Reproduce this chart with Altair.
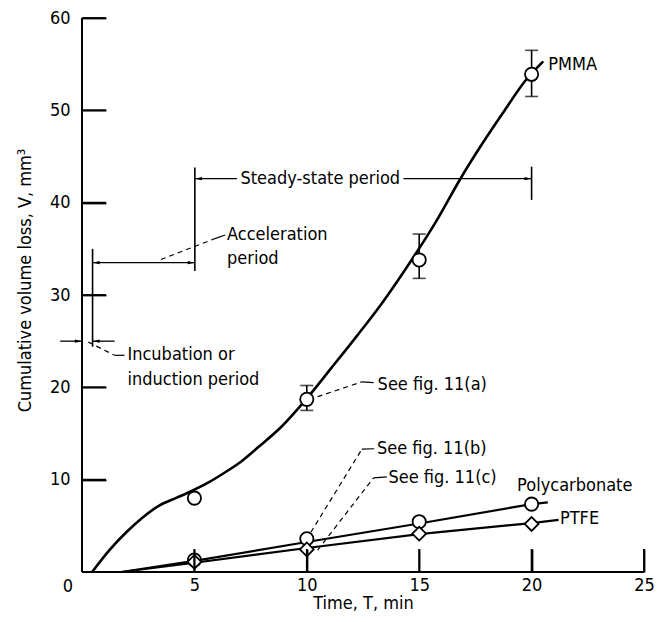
import altair as alt
import pandas as pd

W, H = 562, 554
FONT = "Liberation Sans Narrow, Arial Narrow, DejaVu Sans Condensed, sans-serif"
FS = 18

# ---- data ----
pmma_t = [5, 10, 15, 20]
pmma_v = [8.0, 18.7, 33.8, 53.9]
err_t = [10, 15, 20]
err_lo = [17.5, 31.8, 51.5]
err_hi = [20.2, 36.6, 56.5]

pc_t = [5, 10, 15, 20]
pc_v = [1.3, 3.6, 5.45, 7.35]
ptfe_t = [5, 10, 15, 20]
ptfe_v = [1.1, 2.45, 4.15, 5.2]

# fitted curves
pmma_curve_t = [0.45, 1.23, 1.97, 2.7, 3.43, 4.17, 4.9, 5.63, 6.37, 7.1, 7.83, 8.86, 9.9,
                11.06, 12.24, 13.4, 14.88, 15.76, 16.86, 17.81, 18.69, 19.72, 20.52]
pmma_curve_v = [0.0, 2.4, 4.3, 5.9, 7.2, 8.0, 8.8, 9.7, 10.8, 12.0, 13.5, 15.7, 18.5,
                22.0, 25.6, 29.3, 34.6, 38.0, 42.7, 46.4, 49.6, 53.2, 55.3]
pc_line_t = [1.75, 5, 10, 15, 20, 20.72]
pc_line_v = [0.0, 1.2, 3.25, 5.25, 7.35, 7.55]
ptfe_line_t = [1.75, 5, 10, 15, 20, 21.2]
ptfe_line_v = [0.0, 1.0, 2.6, 4.1, 5.3, 5.65]

y_ticks = [10, 20, 30, 40, 50, 60]
x_ticks = [5, 10, 15, 20, 25]

# period markers (vertical bars)
bar_t = [0.47, 5.02, 20.0]
bar_lo = [24.4, 32.6, 40.3]
bar_hi = [35.0, 43.8, 43.9]

# horizontal arrow segments
seg_t1 = [5.02, 14.3, 0.47, -0.97, 0.47]
seg_t2 = [6.9, 20.0, 5.02, 0.0, 1.45]
seg_v = [42.6, 42.6, 33.5, 25.0, 25.0]

# arrow heads: (t, v, direction)
head_t = [5.02, 20.0, 0.47, 5.02, 0.0, 0.47]
head_v = [42.6, 42.6, 33.5, 33.5, 25.0, 25.0]
head_dir = ["left", "right", "left", "right", "right", "left"]

# dashed leaders (grouped polylines)
lead_id = ["acc", "acc", "inc", "inc", "a", "a", "b", "b", "c", "c"]
lead_t = [3.51, 5.85, 0.28, 1.45, 10.48, 12.46, 10.18, 12.45, 10.48, 12.97]
lead_v = [33.84, 36.05, 24.9, 23.47, 18.99, 20.6, 4.3, 13.3, 2.36, 10.2]
# short solid ends of leaders
tail_t1 = [5.85, 1.45, 12.46, 12.45, 12.97]
tail_v1 = [36.05, 23.47, 20.6, 13.3, 10.2]
tail_t2 = [6.37, 1.89, 12.97, 13.0, 13.56]
tail_v2 = [36.5, 23.47, 20.5, 13.35, 10.3]

# text labels
lab_text = ["Acceleration", "period", "Incubation or", "induction period",
            "See fig. 11(a)", "See fig. 11(b)", "See fig. 11(c)", "PMMA", "PTFE"]
lab_t = [6.45, 6.45, 2.02, 2.02, 13.15, 13.12, 13.63, 20.74, 21.26]
lab_v = [36.5, 33.9, 23.5, 20.8, 20.25, 13.3, 10.2, 54.9, 5.69]

clab_text = ["Steady-state period", "Polycarbonate"]
clab_t = [10.6, 21.92]
clab_v = [42.6, 9.33]

# ---- helpers ----
xs = alt.Scale(domain=[0, 25], nice=False, zero=False)
ys = alt.Scale(domain=[0, 60], nice=False, zero=False)

XT, YT = 23, 24  # inward tick lengths (px)
XT_DATA = XT * 60.0 / H   # same lengths in data units
YT_DATA = YT * 25.0 / W

AX_X = alt.Axis(
    title="Time, T, min", values=x_ticks, ticks=True, tickSize=XT, tickWidth=1.8,
    tickColor="black", offset=-XT, domain=False, grid=False, zindex=2,
    labelPadding=4, labelFlush=False,
    labelFont=FONT, labelFontSize=FS, labelColor="black",
    titleFont=FONT, titleFontSize=FS, titleColor="black", titleFontWeight="normal",
    titleX=W / 2, titleY=31 + XT, titleAlign="center", titleBaseline="middle")
AX_Y = alt.Axis(
    title="Cumulative volume loss, V, mm³", values=y_ticks, ticks=True, tickSize=YT,
    tickWidth=1.8, tickColor="black", offset=-YT, domain=False, grid=False, zindex=2,
    labelPadding=12, labelFlush=False,
    labelFont=FONT, labelFontSize=FS, labelColor="black",
    titleFont=FONT, titleFontSize=FS, titleColor="black", titleFontWeight="normal",
    titleX=-57 - YT, titleY=262, titleAngle=-90, titleAlign="center", titleBaseline="middle")


def X(field="t"):
    return alt.X(f"{field}:Q", scale=xs, axis=AX_X)


def Y(field="v"):
    return alt.Y(f"{field}:Q", scale=ys, axis=AX_Y)


pmma_df = pd.DataFrame({"t": pmma_t, "v": pmma_v})
err_df = pd.DataFrame({"t": err_t, "lo": err_lo, "hi": err_hi})
pc_df = pd.DataFrame({"t": pc_t, "v": pc_v})
ptfe_df = pd.DataFrame({"t": ptfe_t, "v": ptfe_v})

# axis lines (left and bottom frame edges)
frame_df = pd.DataFrame({"t": [0], "v": [0]})
left_line = alt.Chart(frame_df).mark_rule(color="black", strokeWidth=2).encode(
    x=X(), y=alt.value(0), y2=alt.value(H))
bottom_line = alt.Chart(frame_df).mark_rule(color="black", strokeWidth=2).encode(
    y=Y(), x=alt.value(0), x2=alt.value(W))

# inward ticks drawn as rules through the scales
ytick_layer = alt.Chart(pd.DataFrame({"v": y_ticks})).transform_calculate(
    t0="0", t1=str(YT_DATA)).mark_rule(color="black", strokeWidth=1.8).encode(
    y=Y(), x=X("t0"), x2="t1:Q")
xtick_layer = alt.Chart(pd.DataFrame({"t": x_ticks})).transform_calculate(
    v0="0", v1=str(XT_DATA)).mark_rule(color="black", strokeWidth=1.8).encode(
    x=X(), y=Y("v0"), y2="v1:Q")

zero_label = alt.Chart(pd.DataFrame({"t": [0], "v": [0], "s": ["0"]})).mark_text(
    font=FONT, fontSize=FS, dx=-14, dy=15, align="center", baseline="middle", color="black").encode(
    x=X(), y=Y(), text="s:N")

pmma_curve = alt.Chart(pd.DataFrame({"t": pmma_curve_t, "v": pmma_curve_v})).mark_line(
    color="black", strokeWidth=2.6, interpolate="catmull-rom").encode(x=X(), y=Y())
pc_line = alt.Chart(pd.DataFrame({"t": pc_line_t, "v": pc_line_v})).mark_line(
    color="black", strokeWidth=2.2).encode(x=X(), y=Y())
ptfe_line = alt.Chart(pd.DataFrame({"t": ptfe_line_t, "v": ptfe_line_v})).mark_line(
    color="black", strokeWidth=2.2).encode(x=X(), y=Y())

err_rule = alt.Chart(err_df).mark_rule(color="black", strokeWidth=1.6).encode(
    x=X(), y=Y("lo"), y2="hi:Q")
err_cap_lo = alt.Chart(err_df).mark_tick(color="black", orient="horizontal", size=13, thickness=1.6).encode(
    x=X(), y=Y("lo"))
err_cap_hi = alt.Chart(err_df).mark_tick(color="black", orient="horizontal", size=13, thickness=1.6).encode(
    x=X(), y=Y("hi"))

pmma_pts = alt.Chart(pmma_df).mark_point(shape="circle", size=175, filled=True, fill="white",
                                         stroke="black", strokeWidth=1.8, opacity=1).encode(x=X(), y=Y())
pc_pts = alt.Chart(pc_df).mark_point(shape="circle", size=175, filled=True, fill="white",
                                     stroke="black", strokeWidth=1.8, opacity=1).encode(x=X(), y=Y())
ptfe_pts = alt.Chart(ptfe_df).mark_point(shape="diamond", size=190, filled=True, fill="white",
                                         stroke="black", strokeWidth=1.8, opacity=1).encode(x=X(), y=Y())

bars = alt.Chart(pd.DataFrame({"t": bar_t, "lo": bar_lo, "hi": bar_hi})).mark_rule(
    color="black", strokeWidth=1.6).encode(x=X(), y=Y("lo"), y2="hi:Q")

segs = alt.Chart(pd.DataFrame({"t1": seg_t1, "t2": seg_t2, "v": seg_v})).mark_rule(
    color="black", strokeWidth=1.3).encode(x=X("t1"), x2="t2:Q", y=Y())

head_df = pd.DataFrame({"t": head_t, "v": head_v, "d": head_dir})
LEFT = "M0,0L2.6,-0.6L2.6,0.6Z"
RIGHT = "M0,0L-2.6,-0.6L-2.6,0.6Z"
heads_l = alt.Chart(head_df).transform_filter(alt.datum.d == "left").mark_point(
    shape=LEFT, size=30, filled=True, color="black", opacity=1).encode(x=X(), y=Y())
heads_r = alt.Chart(head_df).transform_filter(alt.datum.d == "right").mark_point(
    shape=RIGHT, size=30, filled=True, color="black", opacity=1).encode(x=X(), y=Y())

leaders = alt.Chart(pd.DataFrame({"id": lead_id, "t": lead_t, "v": lead_v})).mark_line(
    color="black", strokeWidth=1.2, strokeDash=[5, 4]).encode(x=X(), y=Y(), detail="id:N")
tails = alt.Chart(pd.DataFrame({"t1": tail_t1, "v1": tail_v1, "t2": tail_t2, "v2": tail_v2})).mark_rule(
    color="black", strokeWidth=1.2).encode(x=X("t1"), y=Y("v1"), x2="t2:Q", y2="v2:Q")

labels = alt.Chart(pd.DataFrame({"t": lab_t, "v": lab_v, "s": lab_text})).mark_text(
    font=FONT, fontSize=FS, align="left", baseline="middle", color="black").encode(
    x=X(), y=Y(), text="s:N")
clabels = alt.Chart(pd.DataFrame({"t": clab_t, "v": clab_v, "s": clab_text})).mark_text(
    font=FONT, fontSize=FS, align="center", baseline="middle", color="black").encode(
    x=X(), y=Y(), text="s:N")

chart = alt.layer(
    left_line, bottom_line,
    pmma_curve, pc_line, ptfe_line,
    err_rule, err_cap_lo, err_cap_hi,
    bars, segs, heads_l, heads_r, leaders, tails,
    pmma_pts, pc_pts, ptfe_pts,
    labels, clabels, zero_label,
    ytick_layer, xtick_layer,
).properties(
    width=W, height=H,
    background="white",
    autosize=alt.AutoSizeParams(type="none"),
    padding={"left": 74, "top": 10, "right": 11, "bottom": 40},
).configure_view(stroke=None, fill=None)

chart.save("out.html", embed_options={"renderer": "svg", "actions": False})
